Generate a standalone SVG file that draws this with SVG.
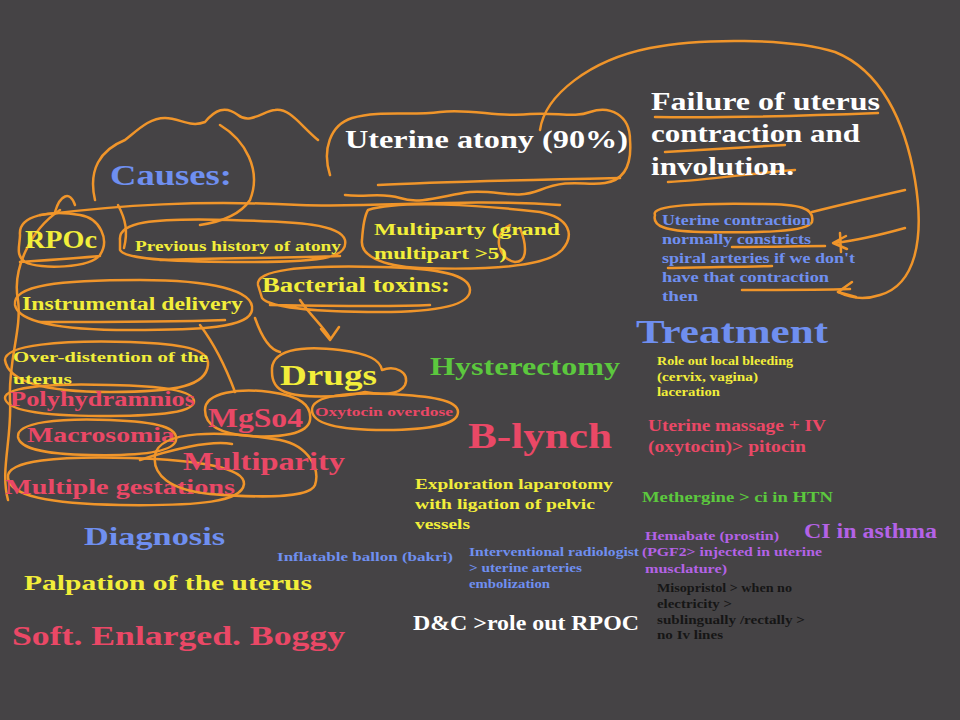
<svg xmlns="http://www.w3.org/2000/svg" width="960" height="720" viewBox="0 0 960 720">
<style>
.t{font-family:"Liberation Serif","Times New Roman",serif;font-weight:bold}
.y{fill:#f2ee3a}.p{fill:#ea4866}.b{fill:#6f8ff0}.g{fill:#5cc83e}.w{fill:#ffffff}.v{fill:#b462e6}.k{fill:#161616}
.o{fill:none;stroke:#f0952a;stroke-width:2.5;stroke-linecap:round;stroke-linejoin:round}
</style>
<rect width="960" height="720" fill="#454345"/>
<g id="connectors">
<path class="o" d="M540,130 C545,95 590,60 650,48 C700,38 790,38 835,52 C880,70 905,120 915,180 C925,240 915,285 880,295 C865,300 850,298 838,292"/>
<path class="o" d="M852,282 L838,292 L856,297"/>
<path class="o" d="M812,212 C840,205 870,198 905,190"/>
<path class="o" d="M905,228 C880,235 860,240 835,243 M846,236 L833,243 L847,249 M840,233 L841,252"/>
<path class="o" d="M300,300 C310,315 322,325 330,338 M321,329 L330,340 L339,327"/>
<path class="o" d="M40,215 C120,205 200,200 300,205 C380,208 460,198 560,205"/>
<path class="o" d="M60,210 C30,230 12,270 18,300 C22,330 8,360 10,400 C12,440 0,470 8,500"/>
<path class="o" d="M200,325 C215,345 225,365 235,392"/>
<path class="o" d="M255,318 C262,338 270,350 280,352"/>
<path class="o" d="M140,460 C170,450 210,440 232,444"/>
<path class="o" d="M118,205 C126,220 128,232 124,248"/>
</g>
<g id="atony">
<path class="o" d="M330,175 C322,150 330,125 352,118 C380,110 410,116 440,112 C470,108 500,118 530,114 C555,112 575,118 590,112 C610,105 630,115 630,140 C632,165 625,180 605,183 C585,186 570,178 540,190 C515,200 500,190 470,192 C445,195 420,205 400,198 C380,192 365,198 345,195"/>
<path class="o" d="M378,185 C430,182 520,180 620,178"/>
<text class="t w" x="345" y="148" font-size="25" textLength="283" lengthAdjust="spacingAndGlyphs">Uterine atony (90%)</text>
</g>
<g id="failure">
<path class="o" d="M655,117 C720,118 800,116 878,113 M665,152 C700,150 740,148 785,145 M668,182 C710,180 760,172 795,170"/>
<text class="t w" x="651" y="110" font-size="25" textLength="229" lengthAdjust="spacingAndGlyphs">Failure of uterus</text>
<text class="t w" x="651" y="142" font-size="25" textLength="209" lengthAdjust="spacingAndGlyphs">contraction and</text>
<text class="t w" x="651" y="175" font-size="25" textLength="143" lengthAdjust="spacingAndGlyphs">involution.</text>
</g>
<g id="spiral">
<path class="o" d="M655,215 C650,205 700,203 760,204 C800,204 815,208 812,222 C808,232 760,233 700,232 C665,231 652,226 655,215 Z"/>
<path class="o" d="M732,247 C770,247 800,246 825,246 M668,268 C700,267 740,267 772,266 M742,290 C780,290 815,290 850,289"/>
<text class="t b" x="662" y="225" font-size="14" textLength="149" lengthAdjust="spacingAndGlyphs">Uterine contraction</text>
<text class="t b" x="662" y="244" font-size="14" textLength="149" lengthAdjust="spacingAndGlyphs">normally constricts</text>
<text class="t b" x="662" y="263" font-size="14" textLength="193" lengthAdjust="spacingAndGlyphs">spiral arteries if we don't</text>
<text class="t b" x="662" y="282" font-size="14" textLength="167" lengthAdjust="spacingAndGlyphs">have that contraction</text>
<text class="t b" x="662" y="301" font-size="14" textLength="36" lengthAdjust="spacingAndGlyphs">then</text>
</g>
<g id="causes">
<path class="o" d="M95,200 C88,170 100,150 125,140 C140,128 150,118 165,118 C180,118 190,128 205,122 C215,110 225,105 238,115 C250,125 265,110 275,110 C290,108 300,125 318,140"/>
<path class="o" d="M220,125 C245,140 262,170 250,200 C240,215 220,222 200,225"/>
<path class="o" d="M55,212 C60,195 70,190 75,205"/>
<text class="t b" x="110" y="185" font-size="29" textLength="122" lengthAdjust="spacingAndGlyphs">Causes:</text>
</g>
<g id="rpoc">
<path class="o" d="M20,235 C18,215 50,210 80,215 C100,218 110,240 100,255 C90,268 40,270 25,262 C15,255 20,245 20,235 Z M20,262 C50,260 80,258 100,256"/>
<text class="t y" x="25" y="248" font-size="25" textLength="72" lengthAdjust="spacingAndGlyphs">RPOc</text>
</g>
<g id="previous">
<path class="o" d="M120,240 C118,222 150,218 230,220 C300,222 340,224 345,240 C348,256 330,262 250,262 C180,262 125,260 120,250 Z M160,260 C220,258 290,258 340,256"/>
<text class="t y" x="135" y="251" font-size="15" textLength="206" lengthAdjust="spacingAndGlyphs">Previous history of atony</text>
</g>
<g id="multiparty">
<path class="o" d="M368,210 C400,200 480,205 540,212 C570,218 575,235 562,250 C545,268 480,270 420,268 C380,266 360,255 362,240 C363,225 365,215 368,210"/>
<path class="o" d="M510,225 C490,235 500,260 515,262 C530,262 525,240 520,228"/>
<text class="t y" x="374" y="235" font-size="17" textLength="186" lengthAdjust="spacingAndGlyphs">Multiparty (grand</text>
<text class="t y" x="374" y="259" font-size="17" textLength="133" lengthAdjust="spacingAndGlyphs">multipart &gt;5)</text>
</g>
<g id="bacterial">
<path class="o" d="M258,285 C255,270 300,265 380,267 C440,268 470,275 470,290 C470,305 440,312 380,312 C320,312 270,308 262,298 Z M270,305 C330,306 390,307 430,305"/>
<text class="t y" x="262" y="292" font-size="20" textLength="188" lengthAdjust="spacingAndGlyphs">Bacterial toxins:</text>
</g>
<g id="instrumental">
<path class="o" d="M15,305 C12,285 60,280 140,280 C210,280 255,290 252,310 C250,328 200,330 130,330 C60,330 18,322 15,305 Z M40,322 C100,322 170,322 225,320"/>
<text class="t y" x="22" y="310" font-size="18" textLength="221" lengthAdjust="spacingAndGlyphs">Instrumental delivery</text>
</g>
<g id="overdistention">
<path class="o" d="M5,360 C5,345 60,340 130,342 C180,344 210,348 208,365 C206,385 180,392 110,392 C40,392 8,380 5,360 Z"/>
<text class="t y" x="13" y="362" font-size="15" textLength="195" lengthAdjust="spacingAndGlyphs">Over-distention of the</text>
<text class="t y" x="13" y="384" font-size="15" textLength="59" lengthAdjust="spacingAndGlyphs">uterus</text>
</g>
<g id="polyhydramnios">
<path class="o" d="M5,398 C5,386 60,383 110,385 C160,386 195,390 194,402 C192,414 150,416 100,416 C40,416 6,410 5,398 Z"/>
<text class="t p" x="10" y="406" font-size="20" textLength="185" lengthAdjust="spacingAndGlyphs">Polyhydramnios</text>
</g>
<g id="macrosomia">
<path class="o" d="M18,437 C16,422 60,418 110,420 C160,422 178,428 176,440 C174,452 140,456 90,455 C40,454 20,448 18,437 Z"/>
<text class="t p" x="27" y="442" font-size="22" textLength="148" lengthAdjust="spacingAndGlyphs">Macrosomia</text>
</g>
<g id="multiple">
<path class="o" d="M8,478 C5,460 60,456 130,458 C200,460 245,468 244,484 C242,502 200,506 120,505 C50,504 10,496 8,478 Z"/>
<text class="t p" x="5" y="494" font-size="22" textLength="230" lengthAdjust="spacingAndGlyphs">Multiple gestations</text>
</g>
<g id="mgso4">
<path class="o" d="M205,410 C205,392 240,388 270,392 C300,396 312,405 310,420 C308,434 280,438 250,436 C220,434 205,425 205,410 Z"/>
<text class="t p" x="208" y="427" font-size="28" textLength="95" lengthAdjust="spacingAndGlyphs">MgSo4</text>
</g>
<g id="multiparity">
<path class="o" d="M155,455 C160,430 220,430 280,440 C310,446 320,470 315,485 C310,498 260,498 210,494 C170,490 152,475 155,455 Z"/>
<text class="t p" x="183" y="470" font-size="26" textLength="162" lengthAdjust="spacingAndGlyphs">Multiparity</text>
</g>
<g id="drugs">
<path class="o" d="M272,372 C270,350 300,345 340,350 C370,354 380,360 382,370 C395,365 410,372 405,385 C400,395 380,395 365,392 C340,398 300,398 285,392 C275,388 272,380 272,372 Z"/>
<text class="t y" x="280" y="385" font-size="30" textLength="97" lengthAdjust="spacingAndGlyphs">Drugs</text>
</g>
<g id="oxytocin">
<path class="o" d="M312,410 C312,395 350,392 390,394 C430,396 458,400 458,412 C458,424 430,430 385,430 C340,430 312,424 312,410 Z"/>
<text class="t p" x="315" y="416" font-size="13" textLength="138" lengthAdjust="spacingAndGlyphs">Oxytocin overdose</text>
</g>
<g id="hysterectomy"><text class="t g" x="430" y="375" font-size="26" textLength="190" lengthAdjust="spacingAndGlyphs">Hysterectomy</text></g>
<g id="blynch"><text class="t p" x="468" y="448" font-size="36" textLength="144" lengthAdjust="spacingAndGlyphs">B-lynch</text></g>
<g id="treatment"><text class="t b" x="636" y="343" font-size="34" textLength="192" lengthAdjust="spacingAndGlyphs">Treatment</text></g>
<g id="role">
<text class="t y" x="657" y="365" font-size="12" textLength="136" lengthAdjust="spacingAndGlyphs">Role out local bleeding</text>
<text class="t y" x="657" y="381" font-size="12" textLength="101" lengthAdjust="spacingAndGlyphs">(cervix, vagina)</text>
<text class="t y" x="657" y="396" font-size="12" textLength="63" lengthAdjust="spacingAndGlyphs">laceration</text>
</g>
<g id="massage">
<text class="t p" x="648" y="431" font-size="16" textLength="178" lengthAdjust="spacingAndGlyphs">Uterine massage + IV</text>
<text class="t p" x="648" y="452" font-size="16" textLength="158" lengthAdjust="spacingAndGlyphs">(oxytocin)&gt; pitocin</text>
</g>
<g id="exploration">
<text class="t y" x="415" y="489" font-size="15" textLength="198" lengthAdjust="spacingAndGlyphs">Exploration laparotomy</text>
<text class="t y" x="415" y="509" font-size="15" textLength="180" lengthAdjust="spacingAndGlyphs">with ligation of pelvic</text>
<text class="t y" x="415" y="529" font-size="15" textLength="55" lengthAdjust="spacingAndGlyphs">vessels</text>
</g>
<g id="methergine"><text class="t g" x="642" y="502" font-size="15" textLength="191" lengthAdjust="spacingAndGlyphs">Methergine &gt; ci in HTN</text></g>
<g id="hemabate">
<text class="t v" x="645" y="540" font-size="13" textLength="134" lengthAdjust="spacingAndGlyphs">Hemabate (prostin)</text>
<text class="t v" x="642" y="556" font-size="13" textLength="180" lengthAdjust="spacingAndGlyphs">(PGF2&gt; injected in uterine</text>
<text class="t v" x="645" y="573" font-size="13" textLength="82" lengthAdjust="spacingAndGlyphs">musclature)</text>
</g>
<g id="asthma"><text class="t v" x="804" y="538" font-size="20" textLength="133" lengthAdjust="spacingAndGlyphs">CI in asthma</text></g>
<g id="misoprostol">
<text class="t k" x="657" y="592" font-size="12" textLength="135" lengthAdjust="spacingAndGlyphs">Misopristol &gt; when no</text>
<text class="t k" x="657" y="608" font-size="12" textLength="75" lengthAdjust="spacingAndGlyphs">electricity &gt;</text>
<text class="t k" x="657" y="624" font-size="12" textLength="148" lengthAdjust="spacingAndGlyphs">sublingually /rectally &gt;</text>
<text class="t k" x="657" y="639" font-size="12" textLength="66" lengthAdjust="spacingAndGlyphs">no Iv lines</text>
</g>
<g id="ballon"><text class="t b" x="277" y="561" font-size="13" textLength="176" lengthAdjust="spacingAndGlyphs">Inflatable ballon (bakri)</text></g>
<g id="interventional">
<text class="t b" x="469" y="556" font-size="12" textLength="170" lengthAdjust="spacingAndGlyphs">Interventional radiologist</text>
<text class="t b" x="469" y="572" font-size="12" textLength="113" lengthAdjust="spacingAndGlyphs">&gt; uterine arteries</text>
<text class="t b" x="469" y="588" font-size="12" textLength="81" lengthAdjust="spacingAndGlyphs">embolization</text>
</g>
<g id="dc"><text class="t w" x="413" y="630" font-size="22" textLength="226" lengthAdjust="spacingAndGlyphs">D&amp;C &gt;role out RPOC</text></g>
<g id="diagnosis"><text class="t b" x="84" y="545" font-size="26" textLength="141" lengthAdjust="spacingAndGlyphs">Diagnosis</text></g>
<g id="palpation"><text class="t y" x="24" y="590" font-size="22" textLength="288" lengthAdjust="spacingAndGlyphs">Palpation of the uterus</text></g>
<g id="soft"><text class="t p" x="12" y="645" font-size="28" textLength="333" lengthAdjust="spacingAndGlyphs">Soft. Enlarged. Boggy</text></g>
</svg>
